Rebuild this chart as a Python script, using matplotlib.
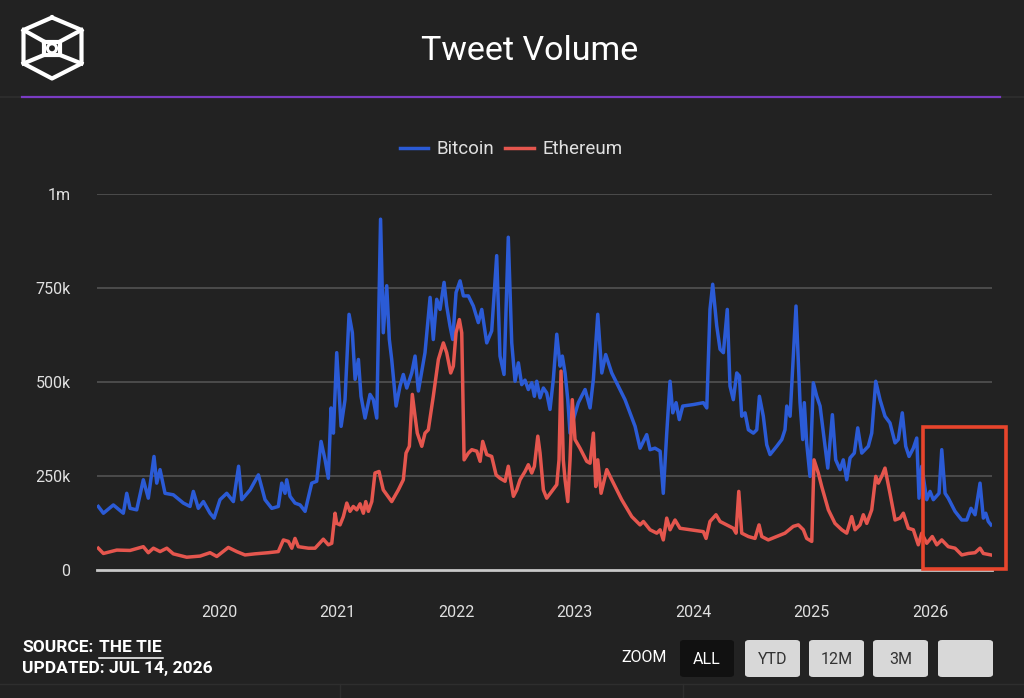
import matplotlib
matplotlib.use("Agg")
import matplotlib.pyplot as plt
from matplotlib.patches import FancyBboxPatch, Rectangle, Ellipse
from matplotlib.lines import Line2D

plt.rcParams['font.family'] = ['Roboto', 'DejaVu Sans']

# ---------------- data (decimal years, thousands of tweets) ----------------
btc_t = [2018.981, 2019.024, 2019.108, 2019.192, 2019.221, 2019.249, 2019.305, 2019.361, 2019.403,
         2019.451, 2019.474, 2019.502, 2019.544, 2019.614, 2019.699, 2019.755, 2019.783, 2019.825,
         2019.868, 2019.924, 2019.958, 2020.008, 2020.065, 2020.121, 2020.165, 2020.192, 2020.262,
         2020.332, 2020.388, 2020.445, 2020.500, 2020.529, 2020.557, 2020.571, 2020.599, 2020.641,
         2020.684, 2020.726, 2020.782, 2020.824, 2020.861, 2020.895, 2020.922, 2020.945, 2020.965,
         2020.993, 2021.030, 2021.063, 2021.097, 2021.125, 2021.148, 2021.176, 2021.198, 2021.232,
         2021.274, 2021.302, 2021.331, 2021.363, 2021.386, 2021.415, 2021.437, 2021.457, 2021.494,
         2021.527, 2021.555, 2021.584, 2021.626, 2021.654, 2021.682, 2021.711, 2021.738, 2021.781,
         2021.808, 2021.837, 2021.865, 2021.899, 2021.921, 2021.949, 2021.972, 2022.000, 2022.034,
         2022.062, 2022.104, 2022.146, 2022.188, 2022.217, 2022.259, 2022.301, 2022.343, 2022.371,
         2022.405, 2022.441, 2022.470, 2022.498, 2022.526, 2022.554, 2022.582, 2022.610, 2022.639,
         2022.661, 2022.681, 2022.709, 2022.737, 2022.765, 2022.793, 2022.821, 2022.850, 2022.878,
         2022.897, 2022.920, 2022.943, 2022.962, 2022.990, 2023.032, 2023.089, 2023.131, 2023.159,
         2023.196, 2023.230, 2023.263, 2023.314, 2023.426, 2023.511, 2023.553, 2023.609, 2023.637,
         2023.679, 2023.722, 2023.749, 2023.778, 2023.806, 2023.829, 2023.857, 2023.884, 2023.913,
         2024.003, 2024.087, 2024.116, 2024.143, 2024.166, 2024.200, 2024.228, 2024.256, 2024.289,
         2024.312, 2024.340, 2024.369, 2024.391, 2024.411, 2024.439, 2024.467, 2024.509, 2024.538,
         2024.560, 2024.593, 2024.622, 2024.650, 2024.706, 2024.749, 2024.776, 2024.791, 2024.819,
         2024.869, 2024.903, 2024.926, 2024.939, 2024.959, 2024.987, 2025.015, 2025.044, 2025.072,
         2025.100, 2025.137, 2025.176, 2025.204, 2025.241, 2025.268, 2025.297, 2025.325, 2025.361,
         2025.390, 2025.424, 2025.479, 2025.508, 2025.542, 2025.578, 2025.620, 2025.662, 2025.705,
         2025.732, 2025.766, 2025.795, 2025.823, 2025.859, 2025.888, 2025.907, 2025.930, 2025.972,
         2026.000, 2026.028, 2026.076, 2026.099, 2026.127, 2026.154, 2026.211, 2026.268, 2026.310,
         2026.346, 2026.380, 2026.422, 2026.450, 2026.470, 2026.492, 2026.515]
btc_v = [169, 151, 173, 151, 204, 164, 160, 240, 191,
         302, 231, 267, 204, 200, 178, 169, 209, 164,
         182, 151, 138, 187, 204, 182, 276, 187, 213,
         253, 187, 164, 169, 231, 204, 240, 196, 178,
         173, 156, 231, 236, 342, 293, 244, 431, 364,
         578, 382, 453, 680, 631, 507, 560, 462, 404,
         467, 453, 404, 933, 631, 756, 613, 560, 436,
         489, 520, 484, 524, 569, 476, 529, 578, 725,
         613, 720, 693, 765, 702, 649, 613, 738, 769,
         729, 729, 702, 658, 693, 604, 636, 836, 569,
         520, 885, 604, 502, 551, 493, 505, 480, 498,
         462, 502, 458, 484, 471, 427, 507, 627, 542,
         569, 524, 453, 364, 400, 445, 480, 431, 507,
         680, 524, 573, 524, 453, 382, 324, 360, 320,
         324, 316, 204, 364, 502, 418, 445, 400, 436,
         440, 445, 431, 693, 760, 649, 587, 578, 693,
         489, 453, 524, 516, 409, 418, 373, 364, 373,
         462, 409, 333, 307, 329, 347, 373, 436, 409,
         702, 445, 347, 445, 338, 249, 498, 462, 436,
         364, 271, 413, 293, 267, 293, 240, 298, 311,
         378, 311, 329, 364, 502, 453, 409, 391, 338,
         347, 418, 329, 302, 324, 351, 191, 276, 187,
         209, 187, 204, 320, 204, 191, 156, 133, 133,
         164, 147, 231, 138, 151, 129, 120]

eth_t = [2018.981, 2019.024, 2019.137, 2019.249, 2019.361, 2019.403, 2019.446, 2019.502, 2019.559,
         2019.614, 2019.727, 2019.840, 2019.924, 2019.981, 2020.078, 2020.149, 2020.219, 2020.304,
         2020.416, 2020.500, 2020.543, 2020.585, 2020.614, 2020.641, 2020.669, 2020.754, 2020.810,
         2020.880, 2020.922, 2020.951, 2020.979, 2020.993, 2021.021, 2021.049, 2021.078, 2021.105,
         2021.133, 2021.162, 2021.190, 2021.218, 2021.238, 2021.260, 2021.289, 2021.316, 2021.350,
         2021.386, 2021.457, 2021.513, 2021.555, 2021.578, 2021.606, 2021.631, 2021.654, 2021.673,
         2021.711, 2021.738, 2021.766, 2021.808, 2021.851, 2021.893, 2021.921, 2021.955, 2021.977,
         2022.000, 2022.028, 2022.048, 2022.068, 2022.104, 2022.133, 2022.175, 2022.203, 2022.225,
         2022.259, 2022.301, 2022.338, 2022.371, 2022.414, 2022.441, 2022.484, 2022.512, 2022.540,
         2022.582, 2022.610, 2022.639, 2022.661, 2022.690, 2022.709, 2022.737, 2022.765, 2022.808,
         2022.850, 2022.869, 2022.886, 2022.905, 2022.920, 2022.943, 2022.962, 2022.981, 2023.004,
         2023.046, 2023.103, 2023.131, 2023.159, 2023.179, 2023.196, 2023.224, 2023.272, 2023.314,
         2023.398, 2023.483, 2023.553, 2023.581, 2023.637, 2023.694, 2023.722, 2023.749, 2023.778,
         2023.806, 2023.848, 2023.890, 2023.975, 2024.087, 2024.110, 2024.143, 2024.194, 2024.228,
         2024.284, 2024.340, 2024.363, 2024.386, 2024.411, 2024.467, 2024.523, 2024.557, 2024.580,
         2024.635, 2024.706, 2024.776, 2024.846, 2024.889, 2024.931, 2024.959, 2025.002, 2025.021,
         2025.057, 2025.086, 2025.142, 2025.198, 2025.255, 2025.297, 2025.339, 2025.367, 2025.409,
         2025.437, 2025.466, 2025.508, 2025.542, 2025.564, 2025.592, 2025.620, 2025.662, 2025.705,
         2025.747, 2025.775, 2025.817, 2025.859, 2025.901, 2025.930, 2025.972, 2026.019, 2026.057,
         2026.099, 2026.154, 2026.211, 2026.268, 2026.323, 2026.380, 2026.422, 2026.450, 2026.515]
eth_v = [58, 44, 53, 52, 62, 46, 58, 49, 58,
         43, 34, 37, 46, 36, 60, 49, 40, 43,
         46, 49, 80, 76, 58, 84, 62, 58, 58,
         82, 67, 71, 151, 124, 120, 142, 178, 156,
         169, 160, 176, 151, 182, 156, 182, 258, 262,
         213, 182, 213, 240, 311, 329, 467, 409, 364,
         329, 364, 373, 462, 560, 604, 578, 524, 542,
         631, 666, 631, 293, 311, 320, 316, 289, 342,
         307, 302, 253, 244, 236, 276, 196, 213, 240,
         262, 280, 258, 276, 356, 311, 213, 191, 209,
         227, 293, 529, 293, 240, 182, 293, 453, 347,
         324, 289, 284, 364, 222, 293, 204, 267, 240,
         187, 142, 120, 129, 107, 98, 107, 80, 138,
         107, 133, 111, 107, 102, 84, 129, 147, 129,
         120, 111, 98, 209, 98, 89, 84, 120, 89,
         80, 89, 98, 116, 120, 107, 84, 76, 293,
         258, 222, 160, 124, 107, 98, 142, 107, 120,
         147, 124, 160, 249, 231, 249, 271, 204, 133,
         138, 151, 111, 107, 67, 98, 71, 89, 67,
         80, 62, 58, 40, 44, 46, 58, 44, 40]

year_ticks = [2020, 2021, 2022, 2023, 2024, 2025, 2026]
year_labels = ['2020', '2021', '2022', '2023', '2024', '2025', '2026']
y_ticks = [0, 250, 500, 750, 1000]
y_labels = ['0', '250k', '500k', '750k', '1m']
series_names = ['Bitcoin', 'Ethereum']

# ---------------- styling ----------------
BG = '#222222'
BLUE = '#2b5bd6'
RED = '#e5564e'
TXT = '#e0e0e0'
W, H = 1024, 698

fig = plt.figure(figsize=(W / 100, H / 100), dpi=100, facecolor=BG)

def fx(px):
    return px / W

def fy(py):
    return 1 - py / H

ax = fig.add_axes([fx(97), fy(570), fx(992) - fx(97), fy(194) - fy(570)])
ax.set_facecolor(BG)
for s in ax.spines.values():
    s.set_visible(False)

ax.set_xlim(2018.97, 2026.523)
ax.set_ylim(0, 1000)

for yv in y_ticks[1:]:
    ax.axhline(yv, color='#4f4f4f', lw=1.3, zorder=1)
ax.axhline(0, color='#c8c8c8', lw=2.0, zorder=1, clip_on=False)

ax.plot(btc_t, btc_v, color=BLUE, lw=2.5, zorder=3, solid_joinstyle='round', label=series_names[0])
ax.plot(eth_t, eth_v, color=RED, lw=2.5, zorder=4, solid_joinstyle='round', label=series_names[1])

ax.set_yticks(y_ticks)
ax.set_yticklabels(y_labels)
ax.set_xticks(year_ticks)
ax.set_xticklabels(year_labels)
ax.tick_params(axis='y', length=0, pad=19, labelsize=11.5, labelcolor=TXT)
ax.tick_params(axis='x', length=0, pad=25, labelsize=11.5, labelcolor=TXT)

# legend
leg = ax.legend(loc='lower center', bbox_to_anchor=(0.4626, 1.05), ncol=2, frameon=False,
                fontsize=13.5, labelcolor=TXT, handlelength=1.5, handletextpad=0.45,
                columnspacing=0.6)

# title
fig.text(fx(530), fy(51), 'Tweet Volume', color='white', fontsize=24.5, ha='center', va='center')

# purple divider
fig.add_artist(Line2D([fx(0), fx(1024)], [fy(97), fy(97)], color='#2c2c2c', lw=1.5))
fig.add_artist(Line2D([fx(22), fx(1000)], [fy(97), fy(97)], color='#7a3cc4', lw=1.6))

# logo
lw_logo = 3.0
hexx = [52, 81.5, 81.5, 52, 23.5, 23.5, 52]
hexy = [17.5, 30, 63.5, 78.5, 63.5, 30, 17.5]
fig.add_artist(Line2D([fx(v) for v in hexx], [fy(v) for v in hexy], color='white', lw=lw_logo,
                      solid_joinstyle='round'))
for (xa, ya, xb, yb) in [(23.5, 30, 44, 41.5), (81.5, 30, 60, 41.5),
                         (23.5, 63.5, 44, 55), (81.5, 63.5, 60, 55)]:
    fig.add_artist(Line2D([fx(xa), fx(xb)], [fy(ya), fy(yb)], color='white', lw=lw_logo))
sqx = [44, 60, 60, 44, 44]
sqy = [41.5, 41.5, 55, 55, 41.5]
fig.add_artist(Line2D([fx(v) for v in sqx], [fy(v) for v in sqy], color='white', lw=lw_logo))
fig.add_artist(Ellipse((fx(52), fy(48.3)), fx(9), 9 / H, fill=False, edgecolor='white', lw=2.2))

# red highlight box
fig.add_artist(Rectangle((fx(923), fy(569)), fx(1006) - fx(923), fy(427) - fy(569),
                         fill=False, edgecolor='#e8452c', lw=2.6))

# footer
fig.text(fx(22), fy(648), 'SOURCE:', color='white', fontsize=12.5, fontweight='bold', va='center')
fig.text(fx(99), fy(648), 'THE TIE', color='white', fontsize=12.5, fontweight='bold', va='center')
fig.add_artist(Line2D([fx(99), fx(163)], [fy(658), fy(658)], color='white', lw=1.1))
fig.text(fx(22), fy(668), 'UPDATED: JUL 14, 2026', color='white', fontsize=12.5, fontweight='bold',
         va='center')

fig.text(fx(644), fy(657), 'ZOOM', color='white', fontsize=11.5, ha='center', va='center')
buttons = [('ALL', 680, 734, '#111111', 'white'),
           ('YTD', 745, 800, '#d8d8d8', '#333333'),
           ('12M', 809, 864, '#d8d8d8', '#333333'),
           ('3M', 873, 928, '#d8d8d8', '#333333'),
           ('', 938, 993, '#d8d8d8', '#333333')]
for lab, x0, x1, fc, tc in buttons:
    fig.add_artist(FancyBboxPatch((fx(x0), fy(677)), fx(x1) - fx(x0), fy(640) - fy(677),
                                  boxstyle='round,pad=0,rounding_size=0.004',
                                  facecolor=fc, edgecolor='none'))
    if lab:
        fig.text(fx((x0 + x1) / 2), fy(659), lab, color=tc, fontsize=11.5, ha='center', va='center')

fig.add_artist(Line2D([0, 1], [fy(684), fy(684)], color='#2e2e2e', lw=1))
fig.add_artist(Line2D([fx(340), fx(340)], [0, fy(684)], color='#2e2e2e', lw=1))
fig.add_artist(Line2D([fx(683), fx(683)], [0, fy(684)], color='#2e2e2e', lw=1))

fig.savefig('out.png', dpi=100, facecolor=BG)
